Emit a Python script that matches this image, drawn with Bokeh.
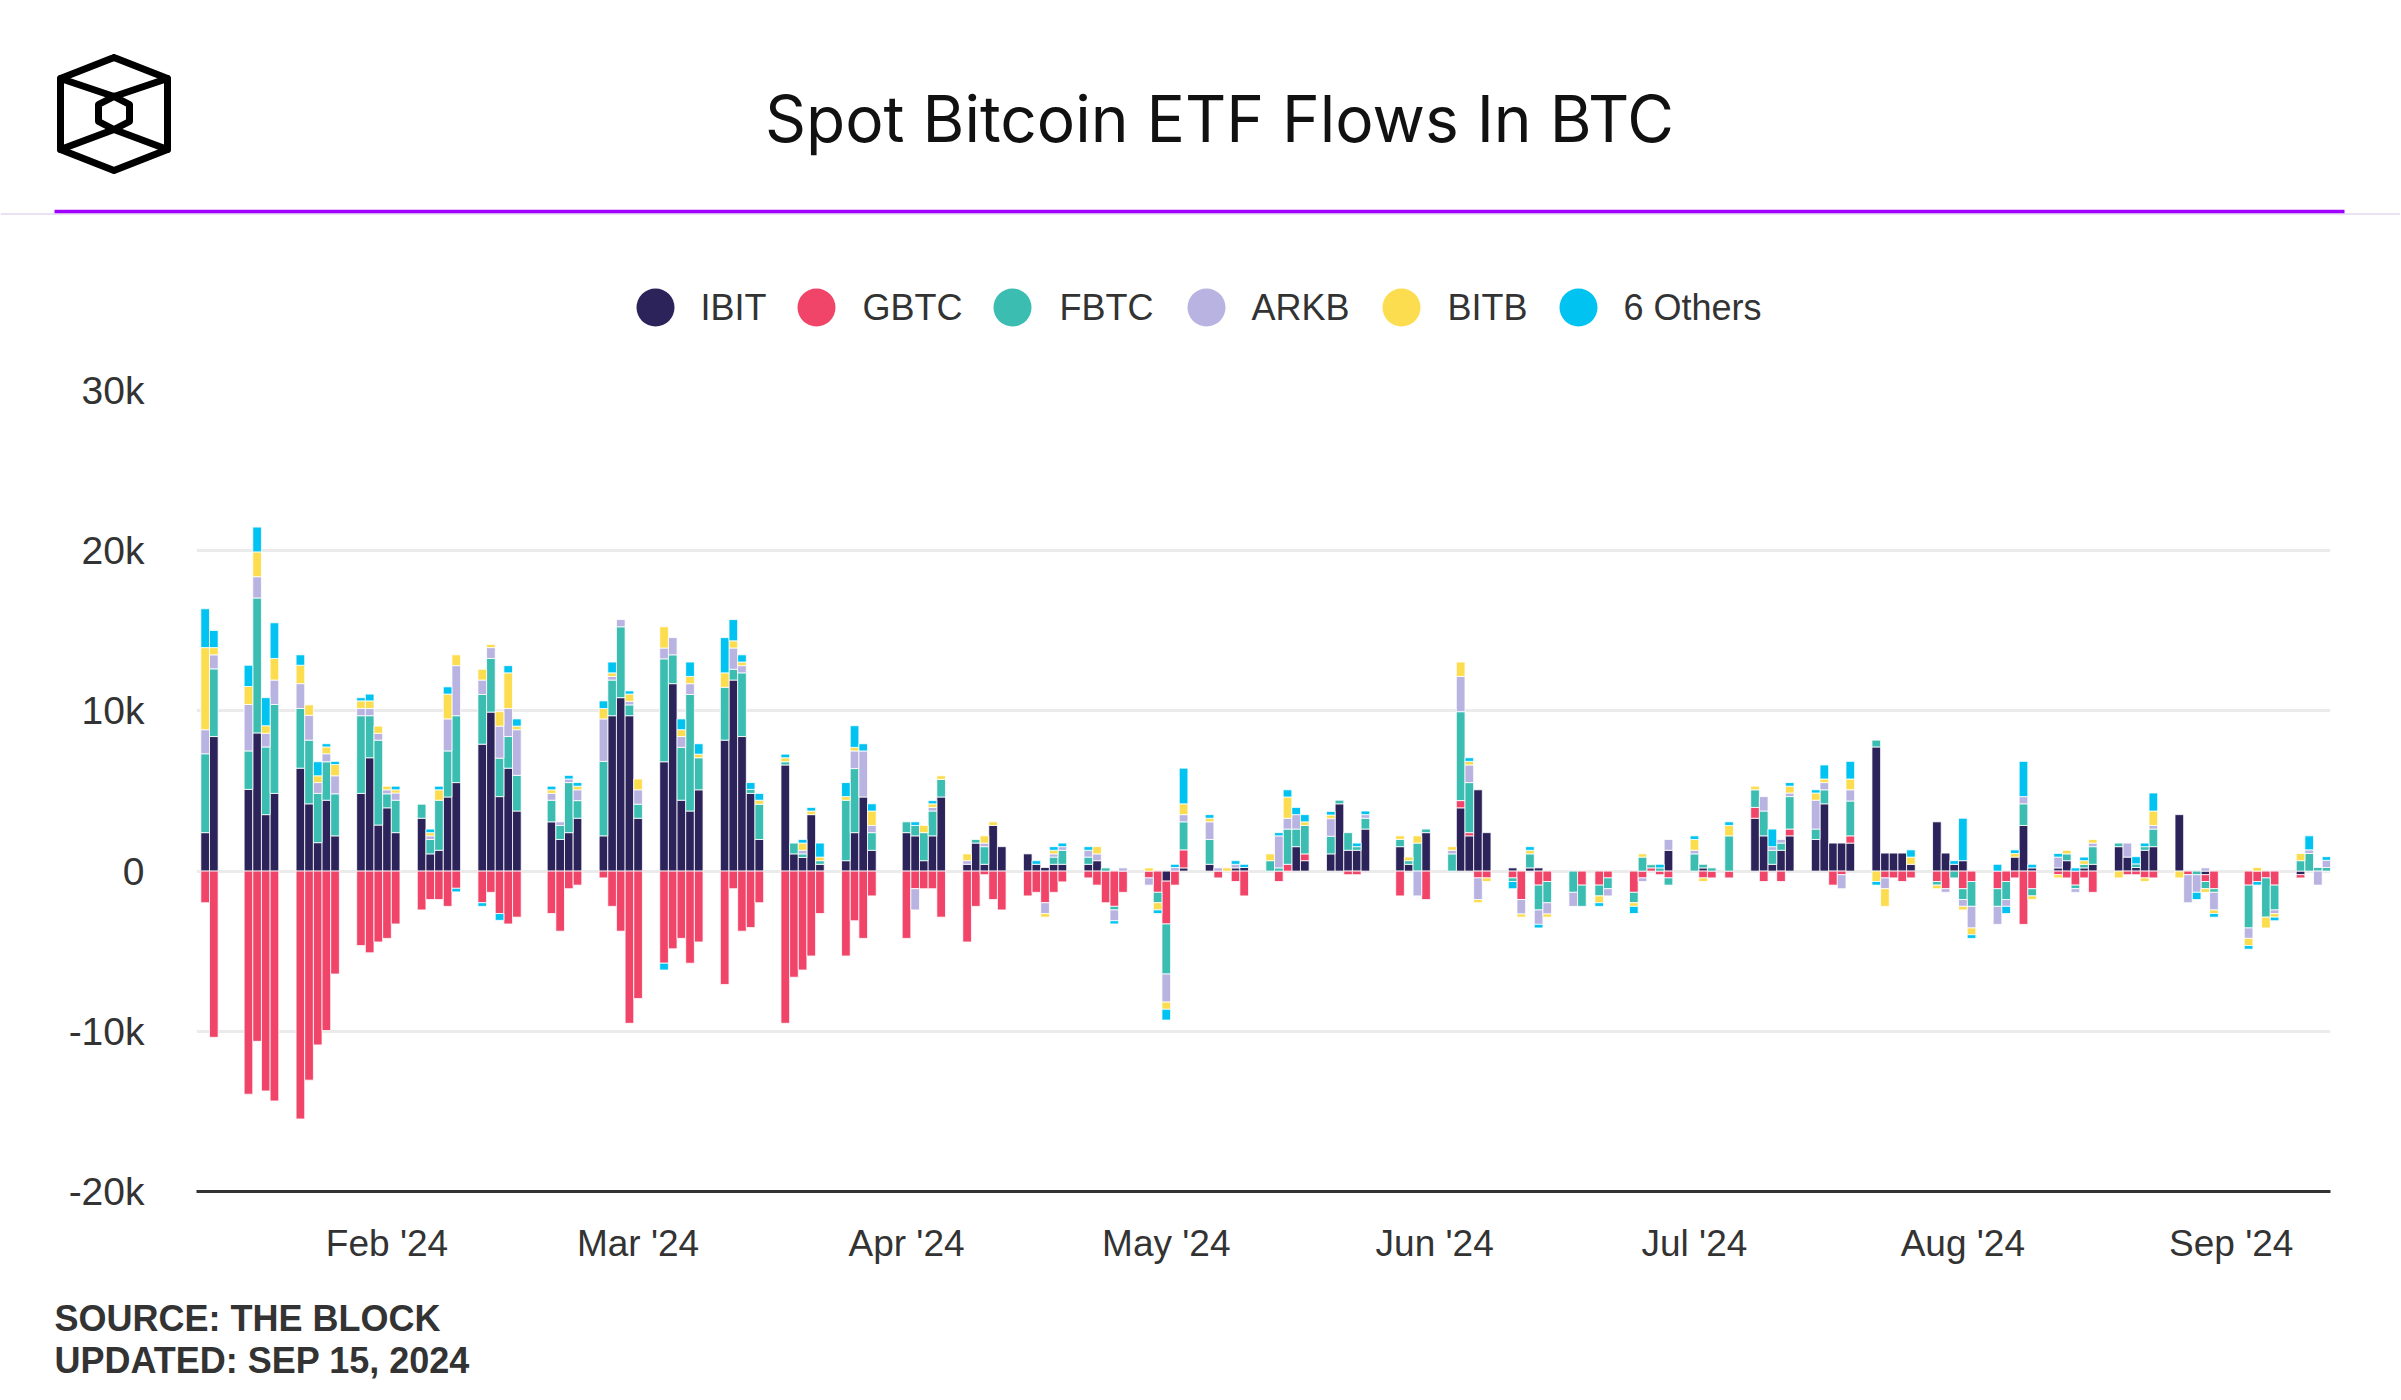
import numpy as np
import pandas as pd
from bokeh.plotting import figure
from bokeh.models import Range1d, FixedTicker, ColumnDataSource
from bokeh.embed import file_html
from bokeh.resources import INLINE
from bokeh.core.properties import value

# ---------------- data (BTC) ----------------
dates = [
    "2024-01-11", "2024-01-12", "2024-01-16", "2024-01-17", "2024-01-18", "2024-01-19", "2024-01-22",
    "2024-01-23", "2024-01-24", "2024-01-25", "2024-01-26", "2024-01-29", "2024-01-30", "2024-01-31",
    "2024-02-01", "2024-02-02", "2024-02-05", "2024-02-06", "2024-02-07", "2024-02-08", "2024-02-09",
    "2024-02-12", "2024-02-13", "2024-02-14", "2024-02-15", "2024-02-16", "2024-02-20", "2024-02-21",
    "2024-02-22", "2024-02-23", "2024-02-26", "2024-02-27", "2024-02-28", "2024-02-29",
    "2024-03-01", "2024-03-04", "2024-03-05", "2024-03-06", "2024-03-07", "2024-03-08", "2024-03-11",
    "2024-03-12", "2024-03-13", "2024-03-14", "2024-03-15", "2024-03-18", "2024-03-19", "2024-03-20",
    "2024-03-21", "2024-03-22", "2024-03-25", "2024-03-26", "2024-03-27", "2024-03-28",
    "2024-04-01", "2024-04-02", "2024-04-03", "2024-04-04", "2024-04-05", "2024-04-08", "2024-04-09",
    "2024-04-10", "2024-04-11", "2024-04-12", "2024-04-15", "2024-04-16", "2024-04-17", "2024-04-18",
    "2024-04-19", "2024-04-22", "2024-04-23", "2024-04-24", "2024-04-25", "2024-04-26", "2024-04-29",
    "2024-04-30",
    "2024-05-01", "2024-05-02", "2024-05-03", "2024-05-06", "2024-05-07", "2024-05-08", "2024-05-09",
    "2024-05-10", "2024-05-13", "2024-05-14", "2024-05-15", "2024-05-16", "2024-05-17", "2024-05-20",
    "2024-05-21", "2024-05-22", "2024-05-23", "2024-05-24", "2024-05-28", "2024-05-29", "2024-05-30",
    "2024-05-31",
    "2024-06-03", "2024-06-04", "2024-06-05", "2024-06-06", "2024-06-07", "2024-06-10", "2024-06-11",
    "2024-06-12", "2024-06-13", "2024-06-14", "2024-06-17", "2024-06-18", "2024-06-20", "2024-06-21",
    "2024-06-24", "2024-06-25", "2024-06-26", "2024-06-27", "2024-06-28",
    "2024-07-01", "2024-07-02", "2024-07-03", "2024-07-05", "2024-07-08", "2024-07-09", "2024-07-10",
    "2024-07-11", "2024-07-12", "2024-07-15", "2024-07-16", "2024-07-17", "2024-07-18", "2024-07-19",
    "2024-07-22", "2024-07-23", "2024-07-24", "2024-07-25", "2024-07-26", "2024-07-29", "2024-07-30",
    "2024-07-31",
    "2024-08-01", "2024-08-02", "2024-08-05", "2024-08-06", "2024-08-07", "2024-08-08", "2024-08-09",
    "2024-08-12", "2024-08-13", "2024-08-14", "2024-08-15", "2024-08-16", "2024-08-19", "2024-08-20",
    "2024-08-21", "2024-08-22", "2024-08-23", "2024-08-26", "2024-08-27", "2024-08-28", "2024-08-29",
    "2024-08-30",
    "2024-09-03", "2024-09-04", "2024-09-05", "2024-09-06", "2024-09-09", "2024-09-10", "2024-09-11",
    "2024-09-12",
]

ibit = [2400, 8400, 5100, 8625, 3525, 4850, 6425, 4200, 1775, 4425, 2200, 4850, 7075, 2875,
        3950, 2400, 3300, 1075, 1300, 4625, 5525, 7925, 9925, 4650, 6425, 3750, 3075, 1975, 2400, 3300,
        2200, 9700, 10825, 9700,
        3300, 6825, 11700, 4425, 3750, 5075, 8175, 11925, 8400, 4850, 1975, 6625, 1075, 850, 3525, 425,
        650, 2400, 4625, 1300,
        2400, 2200, 650, 2200, 4625, 425, 1750, 425, 2850, 1525, 1075, 425, 225, 425, 425, 425, 650, 0,
        0, 0, 0, 0,
        -625, 0, 200, 425, 0, 0, 200, 225, 0, 0, 0, 1525, 650, 1075, 4200, 1300, 1300, 2625, 1525, 425,
        0, 2400,
        0, 3950, 2200, 5075, 2400, 200, 0, 200, 200, 0, 0, 0, 0, 0, 0, 0, 0, 0, 1300,
        0, 200, 0, 0, 3300, 2200, 425, 1300, 2200, 1975, 4200, 1750, 1750, 1750, 7750, 1125, 1125, 1125,
        425, 3075, 1125, 425,
        650, 0, 0, 0, 875, 2850, 200, 200, 650, 0, 200, 425, 1525, 875, 225, 1300, 1525, 3525, 0, 0,
        -225, 0,
        0, 0, 0, 0, -225, 0, 0, 0]

gbtc = [-1975, -10375, -13925, -10625, -13725, -14350, -15475, -13050, -10850, -9950, -6425, -4650,
        -5100, -4425,
        -4200, -3300, -2425, -1775, -1775, -2200, -1075, -1975, -1325, -2650, -3300, -2875, -2650, -3750,
        -1100, -875, -425, -2200, -3750, -9500,
        -7950, -5750, -4850, -4200, -5750, -4425, -7075, -1100, -3750, -3525, -1975, -9500, -6625, -6175,
        -5300, -2650, -5300, -3100, -4200, -1550,
        -4200, -1100, -1100, -1100, -2875, -4425, -2200, -225, -1775, -2425, -1550, -1325, -1975, -1325,
        -675, -425, -875, -1975, -2200, -1325, -425, -1325,
        -2675, -875, 1125, 0, -425, 0, -650, -1550, 0, -650, 425, 0, 425, 0, 0, -225, -225, 0, -1550, 0,
        0, -1775,
        0, 450, 200, -425, -425, -425, -1775, 0, -875, -650, 0, -875, -875, -425, -1325, -425, 200, -225,
        -425,
        0, -425, -425, -425, 675, -650, 0, -650, 425, 0, 0, -875, -225, 450, 0, -425, -425, -650, -425,
        -650, -1100, 0,
        -1100, -650, -1100, -650, -425, -3325, -1100, -225, -425, -875, -425, -1325, 0, -225, -225, -425,
        -425, 0, -225, 0, -425, -1100,
        -875, -650, -425, -875, -200, 0, 0, 0]

fbtc = [4925, 4225, 2400, 8425, 4225, 5550, 3725, 3975, 3075, 2400, 2625, 4850, 2625, 5300,
        875, 2025, 875, 900, 3125, 2875, 4175, 3100, 3350, 2400, 1975, 2225, 1350, 875, 3125, 1100,
        4650, 2225, 4425, 675,
        875, 6425, 1800, 3300, 7275, 2000, 3300, 675, 3975, 250, 2200, 200, 675, 225, 0, 225, 3775, 4000,
        0, 1100,
        675, 650, 1750, 1550, 1100, 0, 225, 1100, 0, 0, 0, 0, 0, 450, 875, 450, 0, 200, -225, 0, 0, -650,
        -3125, 0, 1750, 1550, 0, 0, 0, 0, 650, 200, 2200, 1100, 1775, 1100, 225, 1100, 225, 675, 450, 225,
        1750, 225,
        1075, 5550, 3125, 0, 0, -225, 0, 875, -1550, -1325, -1325, -1325, -675, -675, -650, 875, 200, 200,
        -450,
        1075, 225, 200, 2200, 1100, 1550, 875, 450, 2025, 650, 875, 0, 0, 2175, 425, 0, 0, 0, 0, -225, 0,
        -425,
        -675, -1550, -1100, -1125, 0, 1350, -450, 0, 425, -225, 225, 1100, 225, 0, 225, 225, 1100, 0, 0,
        -225, -450, -225,
        -2675, 0, -2450, -1550, 650, 1100, 225, 225]

arkb = [1500, 875, 2900, 1325, 850, 1525, 1550, 1550, 675, 500, 1125, 450, 450, 425,
        250, 450, 0, 225, 0, 2000, 3125, 900, 675, 2000, 1750, 2850, 425, 225, 225, 675, 2650, 225, 450,
        225,
        900, 675, 1075, 675, 675, 0, 0, 1325, 450, 0, 0, 0, 0, 225, 0, 0, 0, 1100, 2875, 450,
        0, -1325, 0, 225, 0, 225, 0, 225, 0, 0, 0, 0, -675, 200, 225, 425, 425, 0, -675, 200, -450, 0,
        -1750, 225, 450, 1100, 200, 0, 225, 0, 0, 2000, 675, 900, 0, 1100, 0, 0, 0, 225, 0, 0, -1550, 0,
        225, 2200, 1100, -1350, 0, 0, -900, 0, -900, -700, -875, 0, 0, -450, 0, -225, 0, 0, 675,
        225, 0, 0, 0, 0, 900, 225, 225, 225, 1800, 450, 0, -875, 700, 0, -675, 0, 0, 0, 0, -225, 0,
        -425, -1350, -1125, -425, 0, 450, 0, 675, 0, -225, 0, 225, 0, 875, 0, 0, 225, 0, -1750, -1100,
        200, -1100,
        -650, 0, 0, -225, 0, 225, -875, 450]

bitb = [5125, 450, 1125, 1550, 475, 1350, 1150, 650, 425, 425, 700, 475, 475, 450,
        225, 200, 0, 200, 650, 1550, 675, 675, 200, 900, 2225, 225, 225, 0, 0, 225, 650, 225, 0, 450,
        675, 1325, 0, 425, 450, 225, 900, 450, 225, 0, 250, 250, 0, 450, 225, 225, 225, 225, 0, 900,
        0, 0, 450, 225, 225, 425, 0, 450, 225, 0, 0, 0, -225, 225, 0, 0, 450, 0, 0, 0, 200, -450,
        -450, 0, 675, 225, 0, 200, 0, 0, 425, 0, 1325, 0, 225, 225, 0, 0, 0, 0, 225, 225, 450, 0,
        225, 900, 225, -200, -225, 0, -200, 225, 0, -200, 0, 0, -425, 0, -225, 200, 0, 0, 0,
        675, -225, 0, 650, 225, 0, 0, 0, 425, 450, 225, 0, 0, 675, -650, -1100, 0, 0, 450, -225, 0, 0,
        -225, -425, 0, 0, 225, 0, -225, -200, 225, 0, 225, 225, -425, 0, 0, -225, 900, -425, 0, 0,
        -225, -225,
        -450, 225, -675, -225, 450, 0, 0, 0]

others = [2425, 1075, 1325, 1550, 1750, 2225, 650, 0, 875, 200, 200, 200, 425, 0,
          0, 225, 0, 225, 225, 450, -225, -225, 0, -425, 450, 450, 225, 0, 225, 225, 475, 675, 0, 200,
          0, -425, 0, 675, 900, 650, 2200, 1325, 450, 425, 425, 225, 0, 225, 225, 875, 875, 1350, 450,
          450,
          0, 225, 0, 200, 0, 0, 0, 0, 0, 0, 0, 225, 0, 225, 225, 225, 0, 0, -200, 0, 0, -225,
          -675, 200, 2225, 225, 0, 0, 225, 200, 0, 200, 450, 450, 450, 225, 0, 0, 225, 225, 0, 0, 0, 0,
          0, 0, 225, 0, 0, -450, 0, 225, -225, 0, 0, 0, -225, 0, -450, 0, 0, 225, 0,
          225, 0, 0, 225, 0, 0, 1100, 0, 225, 200, 875, 0, 0, 1100, -225, 0, 0, 0, 450, 0, 0, 225,
          2650, -225, 425, -450, 225, 2200, 225, 225, 0, 200, 225, 0, 0, 0, 450, 225, 1125, 0, 0, -450,
          0, -225,
          -225, -225, 0, -225, 0, 875, 0, 225]

series_names = ["IBIT", "GBTC", "FBTC", "ARKB", "BITB", "6 Others"]
series_colors = ["#2B2359", "#F04468", "#3CBDB2", "#B8B3E1", "#FDDD50", "#00C3F1"]

y_ticks = [-20000, -10000, 0, 10000, 20000, 30000]
y_labels = ["-20k", "-10k", "0", "10k", "20k", "30k"]
month_ticks = ["2024-02-01", "2024-03-01", "2024-04-01", "2024-05-01",
               "2024-06-01", "2024-07-01", "2024-08-01", "2024-09-01"]
month_labels = ["Feb '24", "Mar '24", "Apr '24", "May '24", "Jun '24", "Jul '24", "Aug '24", "Sep '24"]

title_text = "Spot Bitcoin ETF Flows In BTC"
footer_lines = ["SOURCE: THE BLOCK", "UPDATED: SEP 15, 2024"]

# ---------------- layout constants (page pixels, page origin = top-left) ----------------
W = 2400
HDR_TOP, HDR_H = 0, 350
CH_TOP, CH_H = 350, 930
FT_TOP, FT_H = 1280, 116
FRAME_L, FRAME_R, FRAME_T, FRAME_B = 196, 2330, 390, 1191
AX_FONT = "Liberation Sans"
TXT = "#333333"
DAY = 86400000

series_values = [ibit, gbtc, fbtc, arkb, bitb, others]
n = len(dates)
for s in series_values:
    assert len(s) == n, len(s)


def blank(top, height):
    f = figure(width=W, height=height, x_range=Range1d(0, W), y_range=Range1d(top + height, top),
               x_axis_location=None, y_axis_location=None, toolbar_location=None,
               output_backend="svg", min_border=0, outline_line_color=None)
    f.min_border_left = f.min_border_right = f.min_border_top = f.min_border_bottom = 0
    f.grid.visible = False
    return f


# ---------------- header ----------------
hdr = blank(HDR_TOP, HDR_H)

lx = [[113.5, 167, 167, 113.5, 60, 60, 113.5],
      [113.5, 129, 129, 113.5, 98, 98, 113.5],
      [60, 113.5, 167], [60, 113.5, 167]]
ly = [[57, 78, 149, 170, 149, 78, 57],
      [96, 104, 121, 129, 121, 104, 96],
      [78, 96, 78], [149, 129, 149]]
hdr.multi_line(xs=lx, ys=ly, line_color="black", line_width=7, line_join="round", line_cap="round")

hdr.text(x=[1219], y=[118], text=[title_text], text_font=value("Inter"), text_font_size="64px",
         text_align="center", text_baseline="middle", text_color="#111111")

hdr.segment(x0=[0], y0=[213.5], x1=[W], y1=[213.5], line_color="#E2DAEC", line_width=1.5)
hdr.segment(x0=[54], y0=[211], x1=[2344], y1=[211], line_color="#A100FF", line_width=3.5)

leg_cx = [655, 816, 1012, 1206, 1401, 1578]
leg_tx = [700, 862, 1059, 1251, 1447, 1623]
leg_y = 307
hdr.scatter(x=leg_cx, y=[leg_y] * 6, size=38, fill_color=series_colors, line_color=None)
hdr.text(x=leg_tx, y=[leg_y] * 6, text=series_names, text_font=value(AX_FONT), text_font_size="36px",
         text_baseline="middle", text_align="left", text_color=TXT)

# ---------------- chart ----------------
x_dt = pd.to_datetime(dates).values
p = figure(width=W, height=CH_H, x_axis_type="datetime",
           x_range=Range1d(pd.Timestamp("2024-01-10 00:00"), pd.Timestamp("2024-09-12 11:00")),
           y_range=Range1d(-20000, 30000), toolbar_location=None, output_backend="svg",
           outline_line_color=None,
           min_border_left=FRAME_L, min_border_right=W - FRAME_R,
           min_border_top=FRAME_T - CH_TOP, min_border_bottom=CH_TOP + CH_H - FRAME_B)

pos_base = np.zeros(n)
neg_base = np.zeros(n)
for vals, col in zip(series_values, series_colors):
    v = np.asarray(vals, dtype=float)
    mp = v > 0
    mn = v < 0
    src = ColumnDataSource(dict(
        x=np.concatenate([x_dt[mp], x_dt[mn]]),
        bottom=np.concatenate([pos_base[mp], neg_base[mn]]),
        top=np.concatenate([pos_base[mp] + v[mp], neg_base[mn] + v[mn]]),
    ))
    p.vbar(x="x", width=DAY, bottom="bottom", top="top", source=src,
           fill_color=col, line_color="white", line_width=1, line_alpha=0.8)
    pos_base += np.where(mp, v, 0)
    neg_base += np.where(mn, v, 0)

p.xgrid.grid_line_color = None
p.ygrid.grid_line_color = "#EBEBEB"
p.ygrid.grid_line_width = 3
p.ygrid.ticker = FixedTicker(ticks=y_ticks)

p.yaxis.ticker = FixedTicker(ticks=y_ticks)
p.yaxis.major_label_overrides = {t: l for t, l in zip(y_ticks, y_labels)}
p.yaxis.axis_line_color = None
p.yaxis.major_tick_line_color = None
p.yaxis.minor_tick_line_color = None
p.yaxis.major_tick_out = 0
p.yaxis.major_label_standoff = 52
p.yaxis.major_label_text_font = AX_FONT
p.yaxis.major_label_text_font_size = "39px"
p.yaxis.major_label_text_color = TXT

xt = [float(pd.Timestamp(d).value // 10**6) for d in month_ticks]
p.xaxis.ticker = FixedTicker(ticks=xt)
p.xaxis.major_label_overrides = {t: l for t, l in zip(xt, month_labels)}
p.xaxis.axis_line_color = "#333333"
p.xaxis.axis_line_width = 3
p.xaxis.major_tick_line_color = None
p.xaxis.minor_tick_line_color = None
p.xaxis.major_tick_out = 0
p.xaxis.major_label_standoff = 31
p.xaxis.major_label_text_font = AX_FONT
p.xaxis.major_label_text_font_size = "37px"
p.xaxis.major_label_text_color = TXT

# ---------------- footer ----------------
ftr = blank(FT_TOP, FT_H)
ftr.text(x=[54, 54], y=[1318, 1360], text=footer_lines, text_font=value(AX_FONT),
         text_font_style="bold", text_font_size="36px", text_baseline="middle", text_align="left",
         text_color=TXT)

# three independent roots stacked on the page (no frame alignment between them)
open("out.html", "w").write(file_html([hdr, p, ftr], INLINE))
